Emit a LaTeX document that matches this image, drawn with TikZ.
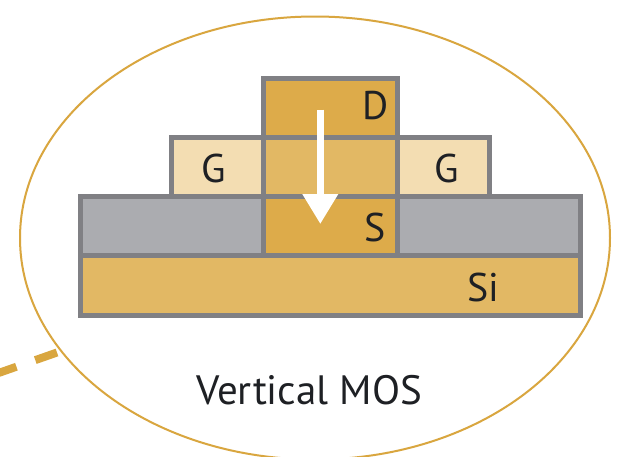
\documentclass[tikz,border=0pt]{standalone}
\usepackage{fontspec}
\setmainfont{PT Sans}
\usetikzlibrary{arrows.meta,shapes.geometric}
\definecolor{goldline}{HTML}{D9A63F}
\definecolor{golddark}{HTML}{DDAB4A}
\definecolor{goldmid}{HTML}{E2B864}
\definecolor{goldlight}{HTML}{F3DDB2}
\definecolor{graybody}{HTML}{ABACB0}
\definecolor{grayline}{HTML}{808084}
\definecolor{inktext}{HTML}{1E2024}
\tikzset{
  layer/.style={draw=grayline,line width=5pt,inner sep=0pt,outer sep=0pt,minimum width=#1,shape=rectangle},
  lab/.style={text=inktext,font=\fontsize{40}{44}\selectfont,inner sep=0pt},
  title/.style={text=inktext,font=\fontsize{41}{45}\selectfont,inner sep=0pt}
}
\begin{document}
\begin{tikzpicture}[x=1pt,y=-1pt]
\useasboundingbox (0,0) rectangle (627,456);
\begin{scope}
\clip (0,0) rectangle (627,456);
\fill[white] (0,0) rectangle (627,456);
\node[draw=goldline,line width=2pt,shape=ellipse,minimum width=590pt,minimum height=443pt,inner sep=0pt,outer sep=0pt] (shell) at (315,238) {};
\coordinate (far) at (-10,376);
\coordinate (near) at (57,352.5);
\draw[goldline,line width=8pt,dash pattern=on 23pt off 20pt] (near) -- (far);
\end{scope}
\node[layer=183.5pt,minimum height=59pt,fill=graybody] (oxl) at (171.75,226) {};
\node[layer=182.5pt,minimum height=59pt,fill=graybody] (oxr) at (488.75,226) {};
\node[layer=500pt,minimum height=59.7pt,fill=goldmid] (si) at (330,285.35) {};
\node[layer=92.5pt,minimum height=59.5pt,fill=goldlight] (gl) at (217.25,166.75) {};
\node[layer=91.5pt,minimum height=59.5pt,fill=goldlight] (gr) at (443.25,166.75) {};
\node[layer=134pt,minimum height=59pt,fill=golddark] (drain) at (330.5,107.5) {};
\node[layer=134pt,minimum height=59.5pt,fill=goldmid] (chan) at (330.5,166.75) {};
\node[layer=134pt,minimum height=59pt,fill=golddark] (source) at (330.5,226) {};
\coordinate (flowa) at (320.3,109.5);
\coordinate (flowb) at (320.3,224);
\draw[white,line width=7pt,-{Triangle[width=34pt,length=30pt]}] (flowa) -- (flowb);
\node[lab] (dlab) at (376,106) {D};
\node[lab] (slab) at (375,227) {S};
\node[lab] (g1) at (214,168) {G};
\node[lab] (g2) at (447,168) {G};
\node[lab] (silab) at (483.5,287) {Si};
\node[title] (cap) at (309,390) {Vertical MOS};
\end{tikzpicture}
\end{document}
